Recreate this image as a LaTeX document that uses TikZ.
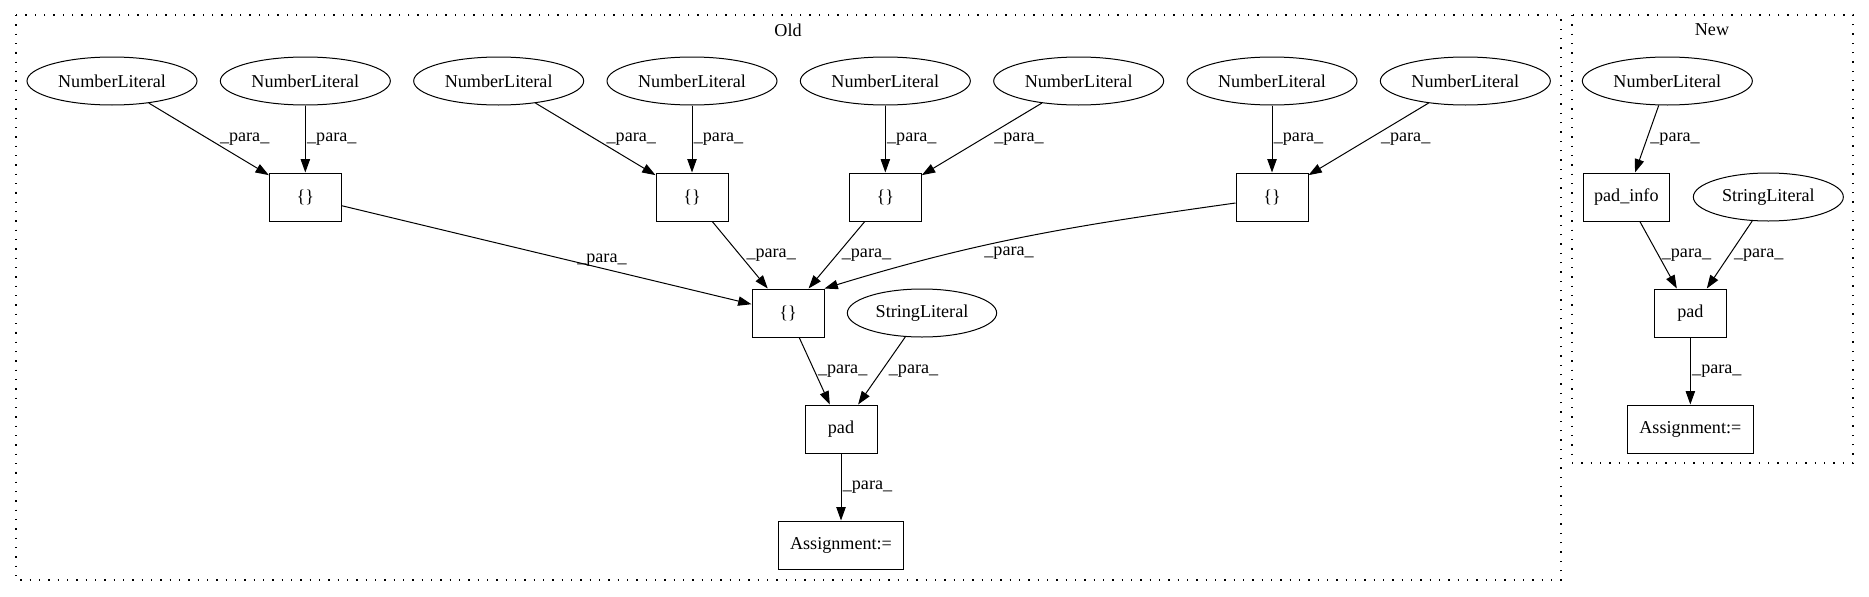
\documentclass[tikz,border=0pt]{standalone}
\usepackage{fontspec}
\setmainfont{Liberation Serif}
\usetikzlibrary{positioning,shapes.geometric,arrows.meta}

\begin{document}
\begin{tikzpicture}[
  lit/.style={ellipse, draw, inner sep=0pt, minimum width=127.5pt, minimum height=36pt},
  op/.style={rectangle, draw, inner sep=0pt, minimum width=54pt, minimum height=36pt},
  cluster/.style={draw, line width=1pt, dash pattern=on 1pt off 6pt},
  lbl/.style={inner sep=1pt},
  node distance=145pt,
  line width=0.75pt,
  >={Triangle[length=10pt,width=7pt]},
  font=\fontsize{13.6}{16}\selectfont
]
\useasboundingbox (0,0) rectangle (1401.75pt,-447pt);

% clusters
\draw[cluster] (12pt,-11.25pt) rectangle (1170.75pt,-435pt);
\draw[cluster] (1179pt,-11.25pt) rectangle (1389.75pt,-347.25pt);
\node (oldtitle) at (591pt,-22.5pt) {Old};
\node (newtitle) at (1284pt,-22.5pt) {New};

% Old
\node[lit] (num1) at (84pt,-60.75pt) {NumberLiteral};
\node[lit, right of=num1] (num2) {NumberLiteral};
\node[lit, right of=num2] (num3) {NumberLiteral};
\node[lit, right of=num3] (num4) {NumberLiteral};
\node[lit, right of=num4] (num5) {NumberLiteral};
\node[lit, right of=num5] (num6) {NumberLiteral};
\node[lit, right of=num6] (num7) {NumberLiteral};
\node[lit, right of=num7] (num8) {NumberLiteral};

\node[op, below of=num2, node distance=87pt] (brace1) {\{\}};
\node[op, below of=num4, node distance=87pt] (brace2) {\{\}};
\node[op, below of=num5, node distance=87pt] (brace3) {\{\}};
\node[op, below of=num7, node distance=87pt] (brace4) {\{\}};
\node[op, below of=brace2, node distance=87pt, xshift=72pt] (brace0) {\{\}};
\node[lit, right of=brace0, node distance=100.5pt, minimum width=112pt] (str) {StringLiteral};
\node[op, below of=brace0, node distance=87pt, xshift=39.75pt] (pad) {pad};
\node[op, below of=pad, node distance=87pt, minimum width=94pt] (assign) {Assignment:=};

% New
\node[lit, right of=num8, node distance=151.5pt] (newnum) {NumberLiteral};
\node[op, below of=newnum, node distance=87pt, xshift=-30.75pt, minimum width=65pt] (padinfo) {pad\_info};
\node[lit, right of=padinfo, node distance=106.5pt, minimum width=112.5pt] (newstr) {StringLiteral};
\node[op, below of=padinfo, node distance=87pt, xshift=48pt] (newpad) {pad};
\node[op, below of=newpad, node distance=87pt, minimum width=94pt] (newassign) {Assignment:=};

\draw[->] (num1) -- (brace1) node[lbl, pos=0.5, right=7pt] {\_para\_};
\draw[->] (num2) -- (brace1) node[lbl, pos=0.5, right=0pt] {\_para\_};
\draw[->] (num3) -- (brace2) node[lbl, pos=0.5, right=7pt] {\_para\_};
\draw[->] (num4) -- (brace2) node[lbl, pos=0.5, right=0pt] {\_para\_};
\draw[->] (num5) -- (brace3) node[lbl, pos=0.5, right=0pt] {\_para\_};
\draw[->] (num6) -- (brace3) node[lbl, pos=0.5, right=8pt] {\_para\_};
\draw[->] (num7) -- (brace4) node[lbl, pos=0.5, right=0pt] {\_para\_};
\draw[->] (num8) -- (brace4) node[lbl, pos=0.5, right=8pt] {\_para\_};

\draw[->] (brace1) -- (brace0) node[lbl, pos=0.635, above] {\_para\_};
\draw[->] (brace2) -- (brace0) node[lbl, pos=0.5, right=3.5pt] {\_para\_};
\draw[->] (brace3) -- (brace0) node[lbl, pos=0.5, right=2.5pt] {\_para\_};
\draw[->] ([yshift=-4.5pt]brace4.west) to[out=188,in=17] node[lbl, pos=0.55, below=4pt] {\_para\_} (brace0.north east);
\draw[->] (brace0) -- (pad) node[lbl, pos=0.5, right=1.25pt] {\_para\_};
\draw[->] (str) -- (pad) node[lbl, pos=0.5, right=4pt] {\_para\_};
\draw[->] (pad) -- (assign) node[lbl, pos=0.5, right=0pt] {\_para\_};

\draw[->] (newnum) -- (padinfo) node[lbl, pos=0.5, right=1.25pt] {\_para\_};
\draw[->] (padinfo) -- (newpad) node[lbl, pos=0.5, right=1.25pt] {\_para\_};
\draw[->] (newstr) -- (newpad) node[lbl, pos=0.5, right=2pt] {\_para\_};
\draw[->] (newpad) -- (newassign) node[lbl, pos=0.5, right=0pt] {\_para\_};
\end{tikzpicture}
\end{document}
